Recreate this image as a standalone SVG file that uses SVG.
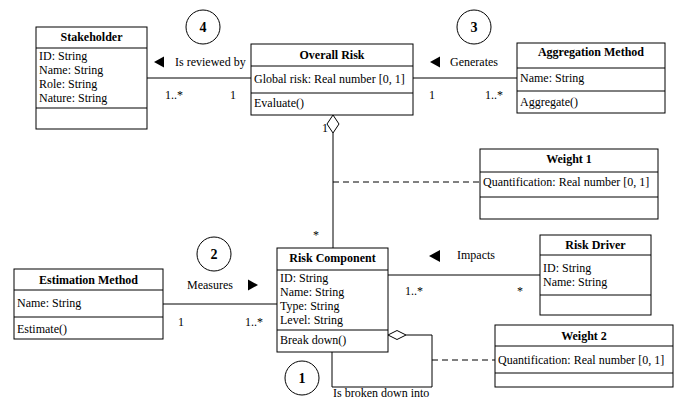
<svg xmlns="http://www.w3.org/2000/svg" width="680" height="399" viewBox="0 0 680 399">
<style>
.box{fill:#fff;stroke:#000;stroke-width:1}
.ln{fill:none;stroke:#000;stroke-width:1}
.dash{fill:none;stroke:#000;stroke-width:1;stroke-dasharray:6,4}
text{font-family:"Liberation Serif","Times New Roman",serif;font-size:12px;fill:#000}
.t{font-weight:bold;text-anchor:middle}
.num{font-weight:bold;font-size:14px;text-anchor:middle}
.arr{fill:#000}
</style>
<rect width="680" height="399" fill="#fff"/>
<g id="connectors">
<line class="ln" x1="147" y1="78" x2="251" y2="78"/>
<line class="ln" x1="413" y1="78" x2="517" y2="78"/>
<line class="ln" x1="333" y1="133" x2="333" y2="248"/>
<path class="box" d="M333,115 L339,124 L333,133 L327,124 Z"/>
<line class="dash" x1="333" y1="182" x2="480" y2="182"/>
<line class="ln" x1="163" y1="304" x2="277" y2="304"/>
<line class="ln" x1="388" y1="275" x2="540" y2="275"/>
<polyline class="ln" points="406,335 432,335 432,387 332,387 332,352"/>
<path class="box" d="M388,335 L397,330.5 L406,335 L397,339.5 Z"/>
<line class="dash" x1="432" y1="360" x2="495" y2="360"/>
<path class="arr" d="M154,62 L164,56.5 L164,67.5 Z"/>
<path class="arr" d="M430,62 L440,56.5 L440,67.5 Z"/>
<path class="arr" d="M258,285 L248,279.5 L248,290.5 Z"/>
<path class="arr" d="M429,256 L440,250 L440,262 Z"/>
<text x="175" y="66">Is reviewed by</text>
<text x="450" y="66">Generates</text>
<text x="187" y="289">Measures</text>
<text x="457" y="259">Impacts</text>
<text x="165" y="99">1..*</text>
<text x="230" y="99">1</text>
<text x="429" y="99">1</text>
<text x="485" y="99">1..*</text>
<text x="322" y="132">1</text>
<text x="313" y="239">*</text>
<text x="178" y="326">1</text>
<text x="245" y="326">1..*</text>
<text x="405" y="295">1..*</text>
<text x="517" y="295">*</text>
<text x="333" y="397">Is broken down into</text>
<circle class="ln" cx="203" cy="27" r="17"/>
<text class="num" x="203" y="32">4</text>
<circle class="ln" cx="474" cy="27" r="17"/>
<text class="num" x="474" y="32">3</text>
<circle class="ln" cx="214" cy="254" r="17"/>
<text class="num" x="214" y="259">2</text>
<circle class="ln" cx="302" cy="378" r="17"/>
<text class="num" x="302" y="383">1</text>
</g>
<g id="stakeholder">
<rect class="box" x="36" y="27" width="111" height="102"/>
<line class="ln" x1="36" y1="48" x2="147" y2="48"/>
<line class="ln" x1="36" y1="108" x2="147" y2="108"/>
<text class="t" x="91.5" y="41">Stakeholder</text>
<text x="39" y="60">ID: String</text>
<text x="39" y="74">Name: String</text>
<text x="39" y="88">Role: String</text>
<text x="39" y="102">Nature: String</text>
</g>
<g id="overall-risk">
<rect class="box" x="251" y="44" width="162" height="71"/>
<line class="ln" x1="251" y1="66" x2="413" y2="66"/>
<line class="ln" x1="251" y1="93" x2="413" y2="93"/>
<text class="t" x="332" y="59">Overall Risk</text>
<text x="254" y="83" fill="#333">Global risk: Real number [0, 1]</text>
<text x="254" y="107">Evaluate()</text>
</g>
<g id="aggregation-method">
<rect class="box" x="517" y="43" width="148" height="70"/>
<line class="ln" x1="517" y1="68" x2="665" y2="68"/>
<line class="ln" x1="517" y1="91" x2="665" y2="91"/>
<text class="t" x="591" y="56">Aggregation Method</text>
<text x="520" y="82">Name: String</text>
<text x="520" y="106">Aggregate()</text>
</g>
<g id="weight-1">
<rect class="box" x="480" y="149" width="178" height="70"/>
<line class="ln" x1="480" y1="172" x2="658" y2="172"/>
<line class="ln" x1="480" y1="197" x2="658" y2="197"/>
<text class="t" x="569" y="163">Weight 1</text>
<text x="483" y="186">Quantification: Real number [0, 1]</text>
</g>
<g id="estimation-method">
<rect class="box" x="14" y="269" width="149" height="70"/>
<line class="ln" x1="14" y1="290" x2="163" y2="290"/>
<line class="ln" x1="14" y1="317" x2="163" y2="317"/>
<text class="t" x="88.5" y="284">Estimation Method</text>
<text x="17" y="307">Name: String</text>
<text x="17" y="333">Estimate()</text>
</g>
<g id="risk-component">
<rect class="box" x="277" y="248" width="111" height="104"/>
<line class="ln" x1="277" y1="270" x2="388" y2="270"/>
<line class="ln" x1="277" y1="330" x2="388" y2="330"/>
<text class="t" x="332.5" y="262">Risk Component</text>
<text x="280" y="282">ID: String</text>
<text x="280" y="296">Name: String</text>
<text x="280" y="310">Type: String</text>
<text x="280" y="324">Level: String</text>
<text x="280" y="344">Break down()</text>
</g>
<g id="risk-driver">
<rect class="box" x="540" y="235" width="111" height="80"/>
<line class="ln" x1="540" y1="255" x2="651" y2="255"/>
<line class="ln" x1="540" y1="295" x2="651" y2="295"/>
<text class="t" x="595.5" y="249">Risk Driver</text>
<text x="543" y="272">ID: String</text>
<text x="543" y="286">Name: String</text>
</g>
<g id="weight-2">
<rect class="box" x="495" y="325" width="178" height="62"/>
<line class="ln" x1="495" y1="346" x2="673" y2="346"/>
<line class="ln" x1="495" y1="373" x2="673" y2="373"/>
<text class="t" x="584" y="340">Weight 2</text>
<text x="498" y="364">Quantification: Real number [0, 1]</text>
</g>
</svg>
